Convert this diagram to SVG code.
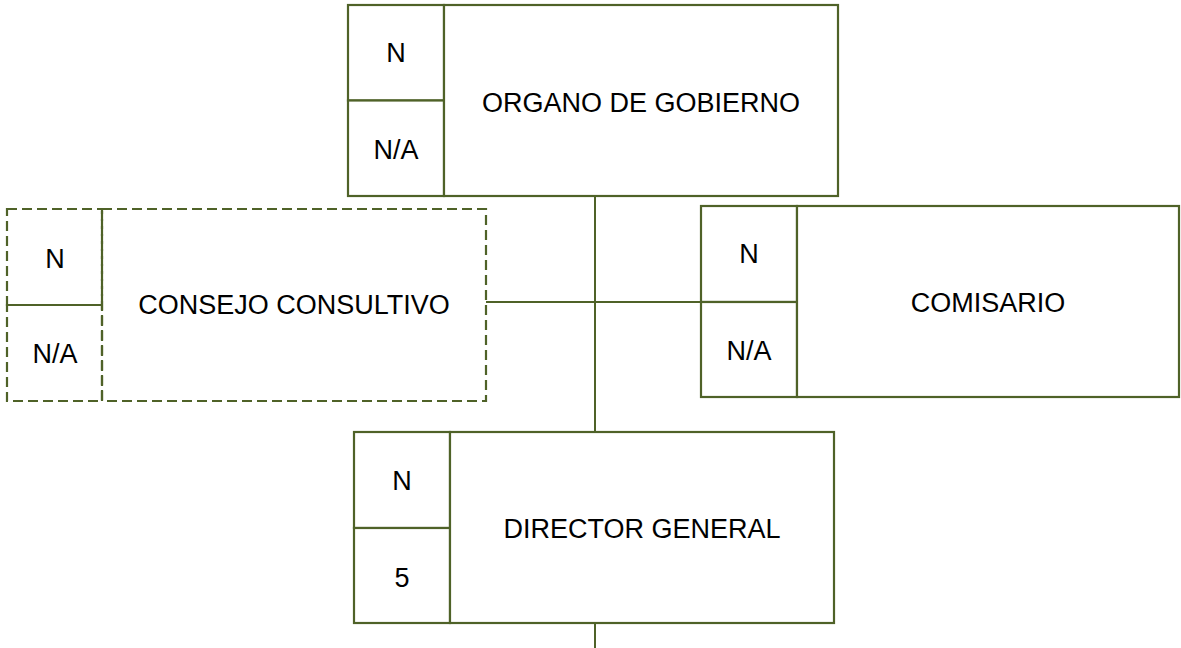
<svg xmlns="http://www.w3.org/2000/svg" width="1181" height="648" viewBox="0 0 1181 648">
<style>
.b{fill:#fff;stroke:#4F6228;stroke-width:2.2}
.d{fill:none;stroke:#4F6228;stroke-width:2.2;stroke-dasharray:10 5}
.c{fill:none;stroke:#4F6228;stroke-width:2}
text{font-family:"Liberation Sans",Arial,sans-serif;font-size:27px;fill:#000;text-anchor:middle}
</style>
<rect width="1181" height="648" fill="#fff"/>
<g id="connectors">
<line class="c" x1="595" y1="196" x2="595" y2="432"/>
<line class="c" x1="486" y1="302" x2="701" y2="302"/>
<line class="c" x1="595" y1="623" x2="595" y2="648"/>
</g>
<g id="organo">
<rect class="b" x="348" y="5" width="96" height="95.5"/>
<rect class="b" x="348" y="100.5" width="96" height="95.5"/>
<rect class="b" x="444" y="5" width="394" height="191"/>
<text x="396" y="62">N</text>
<text x="396" y="159">N/A</text>
<text x="641" y="112">ORGANO DE GOBIERNO</text>
</g>
<g id="consejo">
<rect class="d" x="7" y="209" width="95" height="96"/>
<rect class="d" x="7" y="305" width="95" height="96"/>
<rect class="d" x="102" y="209" width="384" height="192"/>
<text x="55" y="268">N</text>
<text x="55" y="363">N/A</text>
<text x="294" y="314">CONSEJO CONSULTIVO</text>
</g>
<g id="comisario">
<rect class="b" x="701" y="206" width="96" height="96"/>
<rect class="b" x="701" y="302" width="96" height="95"/>
<rect class="b" x="797" y="206" width="382" height="191"/>
<text x="749" y="263">N</text>
<text x="749" y="360">N/A</text>
<text x="988" y="312">COMISARIO</text>
</g>
<g id="director">
<rect class="b" x="354" y="432" width="96" height="96"/>
<rect class="b" x="354" y="528" width="96" height="95"/>
<rect class="b" x="450" y="432" width="384" height="191"/>
<text x="402" y="490">N</text>
<text x="402" y="587">5</text>
<text x="642" y="538">DIRECTOR GENERAL</text>
</g>
</svg>
